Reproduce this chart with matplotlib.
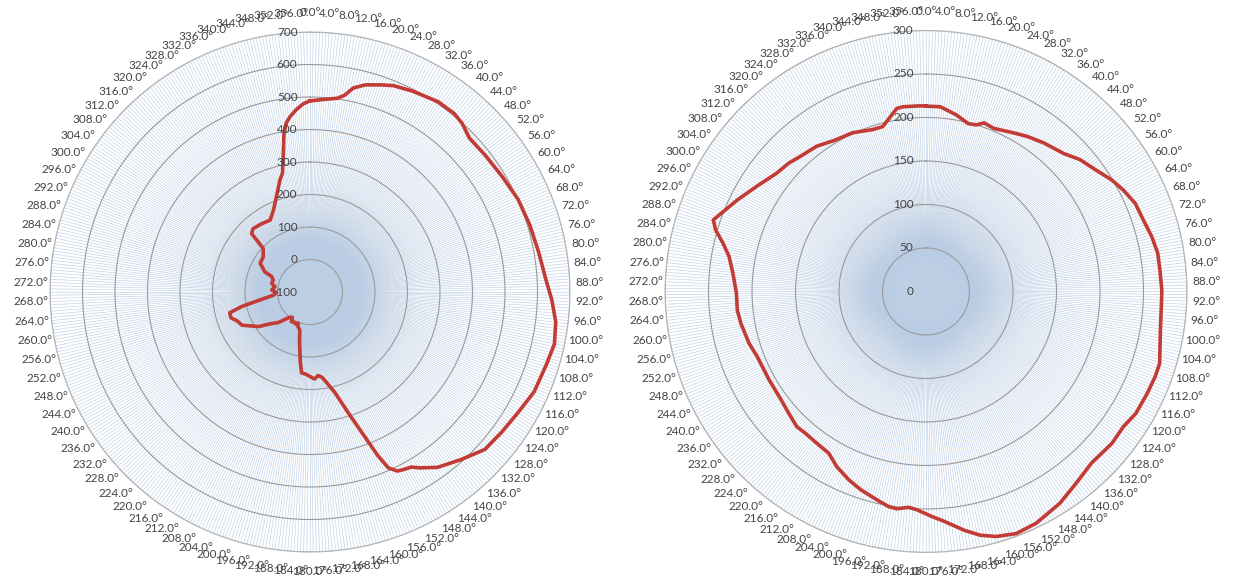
import numpy as np
import matplotlib.pyplot as plt
from matplotlib.colors import ListedColormap

plt.rcParams['font.family'] = ['Lato', 'DejaVu Sans']

# left chart: angle in degrees (clockwise from north) and radial value
left_deg = [0, 4, 8, 10, 12, 15, 19, 22, 27, 34, 39, 42, 46, 52, 59, 66, 73, 80, 87,
            92, 97, 102, 107, 114, 120, 126, 132, 138, 144, 148, 150, 152, 154, 156,
            157.5, 159, 162, 166, 170, 172, 174.5, 177, 180, 183, 186, 188, 190, 192,
            195, 199, 201, 204, 208, 212, 215, 219, 226, 232, 236, 244, 248, 252, 255.5,
            258, 261, 265, 268.8, 273, 278.6, 283, 288, 292, 294, 300, 307, 313, 315,
            318, 324, 331, 336, 340, 345, 347, 349, 350.7, 352, 353.5, 355.6, 358, 360]
left_val = [488, 494, 502, 515, 542, 560, 574, 585, 594, 606, 606, 599, 582, 584, 590, 601, 607, 614, 627,
            645, 662, 669, 661, 655, 640, 631, 624, 594, 567, 538, 522, 518, 513, 492,
            444, 385, 300, 220, 180, 165, 158, 168, 160, 153, 150, 115, 80, 55,
            21, 13, 2, 8, 5, 8, -5, 0, 35, 60, 90, 133, 140, 156, 155,
            115, 56, 13, 3, 18, 9, 21, 19, 27, 52, 77, 80, 97, 154,
            162, 158, 153, 176, 206, 257, 276, 330, 395, 425, 443, 462, 480, 488]

# right chart
right_deg = [0, 4.4, 9.7, 14.1, 16.8, 19, 22.6, 29.6, 33.3, 38.5, 44.9, 49.4, 54.4, 59, 62.8,
             67.2, 71.8, 76.3, 80.6, 84.7, 89.6, 91.3, 99.3, 107.1, 110.4, 114.7, 120.2,
             124.4, 129.3, 136, 142, 147.7, 151.2, 154.6, 159.6, 164, 167.5, 170.9, 175.5,
             178.4, 182.5, 184.6, 187.7, 189.9, 193.3, 198.2, 202.3, 207, 211, 215.7, 220.5,
             223.7, 228.4, 233.2, 240.6, 248.9, 253.7, 260.2, 264.4, 269.5, 275.4, 280.1,
             283.4, 286.3, 288.6, 295.9, 301.9, 308.4, 313.1, 317.2, 323, 329, 335.2, 341.7,
             345.3, 350.9, 352.8, 358.3, 360]
right_val = [213, 213, 206, 199, 200, 205, 203, 209, 213, 218, 224, 233, 240, 249, 255,
             261, 263, 267, 270, 270, 271, 271, 273, 281, 281, 280, 279,
             275, 276, 274, 280, 288, 291, 295, 297, 293, 287, 278, 265,
             259, 251, 249, 252, 251, 246, 240, 234, 226, 217, 215, 214,
             215, 211, 208, 207, 208, 212, 216, 218, 218, 223, 230,
             240, 252, 258, 241, 229, 219, 216, 212, 209, 203, 201, 196,
             196, 213, 214, 213.5, 213]

# edge of the pale blue core near the centre of each chart
blob_deg = [0, 45, 90, 135, 180, 225, 270, 315, 360]
left_blob = [0, 0, 0, 0, 0, 0, 0, 0, 0]
right_blob = [38, 28, 42, 28, 42, 28, 44, 28, 38]

theta_ticks = np.arange(0, 360, 4)
theta_labels = [f'{t:.1f}°' for t in theta_ticks]
spokes = np.linspace(0, 2 * np.pi, 512, endpoint=False)

text_col = '#444444'
red = '#c23b35'

core_rgb = np.array([0.66, 0.76, 0.88])
core_cmap = ListedColormap(np.column_stack([np.tile(core_rgb, (256, 1)), np.linspace(0, 1, 256)]))

fig = plt.figure(figsize=(12.38, 5.77), dpi=100)


def polar_panel(rect, deg, val, rmin, rmax, rstep, blob):
    ax = fig.add_axes(rect, projection='polar')
    ax.set_theta_zero_location('N')
    ax.set_theta_direction(-1)
    rt = np.arange(rmin, rmax + 1, rstep)
    ax.set_yticks(rt)
    ax.set_yticklabels([])
    ax.set_thetagrids(theta_ticks, labels=theta_labels, fontsize=8.5, color=text_col)
    ax.xaxis.grid(False)
    ax.yaxis.grid(True, color='#9a9a9a', lw=0.8)
    ax.spines['polar'].set_color('#b5b5b5')
    ax.spines['polar'].set_linewidth(0.8)
    ax.tick_params(axis='x', pad=3.5)

    # soft blue core fading outwards
    span = rmax - rmin
    tg = np.linspace(0, 2 * np.pi, 361)
    rg = np.linspace(rmin, rmax, 240)
    edge = np.interp(np.rad2deg(tg), blob_deg, blob)
    T, R = np.meshgrid(tg, rg)
    d = R - edge[None, :]
    inten = np.where(d <= 0, 1.0, np.exp(-np.clip(d, 0, None) / (0.05 * span)))
    ax.pcolormesh(T, R, inten * 0.95, cmap=core_cmap, vmin=0, vmax=1,
                  shading='gouraud', zorder=0.2, rasterized=True)

    # fine spokes
    ax.vlines(spokes, rmin, rmax, colors='#bfd0e6', lw=0.45, zorder=0.4)

    ax.plot(np.deg2rad(deg), val, color=red, lw=2.6, zorder=5, solid_joinstyle='round')

    for r in rt:
        ax.annotate(f'{r:g}', xy=(0, r), xytext=(-9, 0), textcoords='offset points',
                    ha='right', va='center', fontsize=8.5, color=text_col, zorder=6)
    ax.set_ylim(rmin, rmax)
    return ax


polar_panel([0.0404, 0.0433, 0.4200, 0.9012], left_deg, left_val, -100, 700, 100, left_blob)
polar_panel([0.5372, 0.0425, 0.4216, 0.9047], right_deg, right_val, 0, 300, 50, right_blob)

fig.savefig('out.png', dpi=100)
